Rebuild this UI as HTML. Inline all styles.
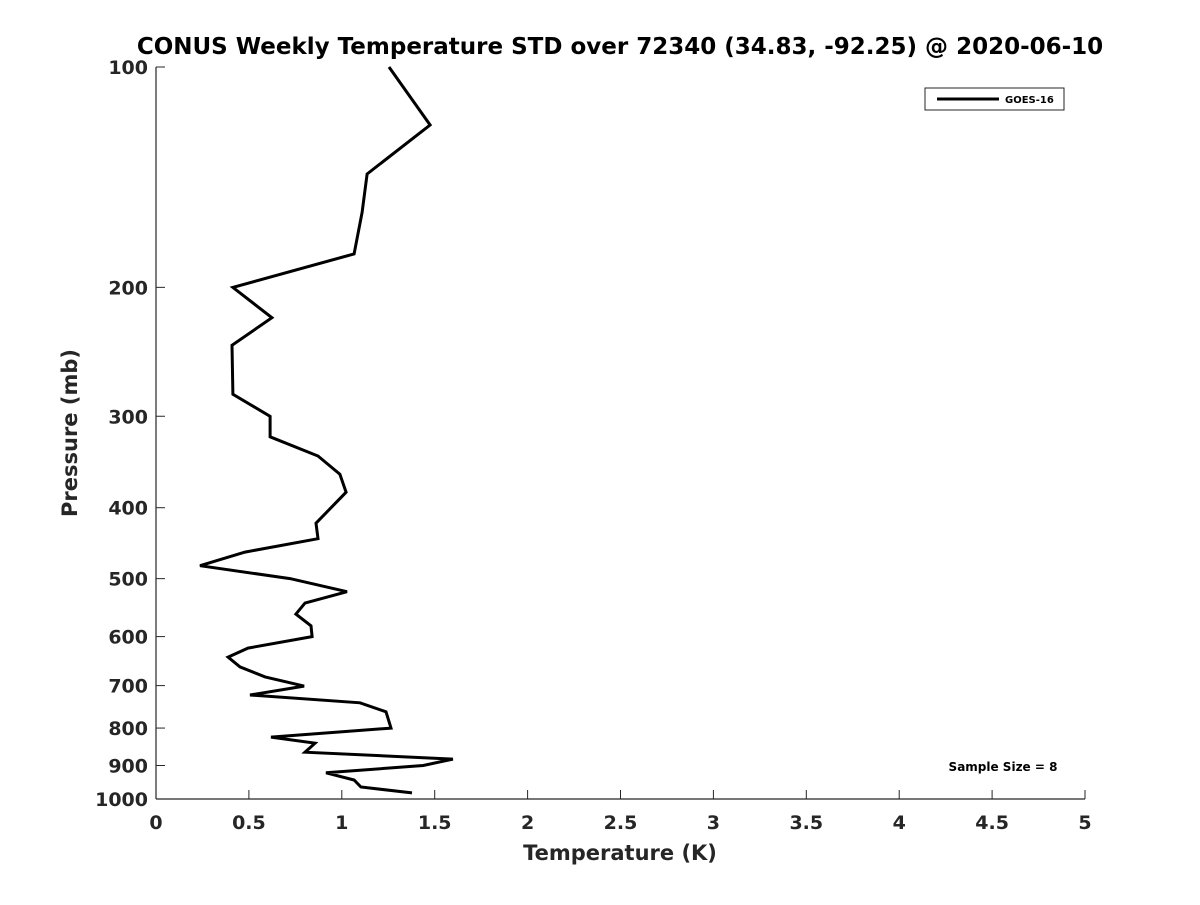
<!DOCTYPE html>
<html><head><meta charset="utf-8"><style>
body{margin:0;background:#fff;font-family:"Liberation Sans","DejaVu Sans",sans-serif}
</style></head><body>
<svg width="1200" height="900" xmlns="http://www.w3.org/2000/svg" id="svg" font-family="DejaVu Sans, Liberation Sans, sans-serif">
<rect width="1200" height="900" fill="#fff"/>
<text x="620" y="54" text-anchor="middle" font-size="23" font-weight="bold">CONUS Weekly Temperature STD over 72340 (34.83, -92.25) @ 2020-06-10</text>
<text x="620" y="860" text-anchor="middle" font-size="21" font-weight="bold" fill="#262626">Temperature (K)</text>
<text transform="translate(77,433) rotate(-90)" text-anchor="middle" font-size="21" font-weight="bold" fill="#262626">Pressure (mb)</text>
<g id="axes"></g>
<polyline id="line" fill="none" stroke="#000" stroke-width="3" stroke-linejoin="miter"/>
<g>
<rect x="925" y="88" width="139" height="22" fill="#fff" stroke="#262626" stroke-width="1"/>
<line x1="937" y1="99" x2="999" y2="99" stroke="#000" stroke-width="3"/>
<text x="1005" y="103" font-size="10" font-weight="bold">GOES-16</text>
</g>
<text x="1003" y="771" text-anchor="middle" font-size="12" font-weight="bold">Sample Size = 8</text>
</svg>
<script>
const temps=[1.254,1.475,1.136,1.109,1.066,0.414,0.624,0.409,0.414,0.614,0.614,0.872,0.990,1.023,0.861,0.872,0.479,0.237,0.721,1.028,0.802,0.753,0.834,0.840,0.495,0.388,0.452,0.587,0.797,0.506,1.098,1.238,1.265,0.619,0.856,0.802,1.598,1.438,0.915,1.066,1.103,1.378];
const pressures=[100,120,140,158,180,200,220,240,280,300,320,340,360,381,420,441,460,480,500,521,540,559,580,600,622,640,660,681,701,721,739,760,800,823,839,863,882,900,921,942,963,981];
const xTicks=[0,0.5,1,1.5,2,2.5,3,3.5,4,4.5,5];
const xTickLabels=["0","0.5","1","1.5","2","2.5","3","3.5","4","4.5","5"];
const yTicks=[100,200,300,400,500,600,700,800,900,1000];
const L=156,R=1085,T=67,B=799;
const xs=v=>L+(v/5)*(R-L);
const ys=p=>T+Math.log10(p/100)*(B-T);
const NS="http://www.w3.org/2000/svg";
const ax=document.getElementById('axes');
function mk(tag,attrs){const e=document.createElementNS(NS,tag);for(const k in attrs)e.setAttribute(k,attrs[k]);ax.appendChild(e);return e;}
let e=mk('line',{x1:L,y1:T,x2:L,y2:B,stroke:'#262626','stroke-width':1.2});

e=mk('line',{x1:L,y1:B,x2:R,y2:B,stroke:'#262626','stroke-width':1.2});

xTicks.forEach((t,i)=>{const x=xs(t);
 let l=mk('line',{x1:x,y1:B,x2:x,y2:B-9,stroke:'#262626','stroke-width':1});
 
 let tx=mk('text',{x:x,y:B+30,'text-anchor':'middle','font-size':19,'font-weight':'bold',fill:'#262626'});
 tx.textContent=xTickLabels[i];
 });
yTicks.forEach(t=>{const y=ys(t);
 let l=mk('line',{x1:L,y1:y,x2:L+9,y2:y,stroke:'#262626','stroke-width':1});
 
 let tx=mk('text',{x:L-8,y:y+7,'text-anchor':'end','font-size':19,'font-weight':'bold',fill:'#262626'});
 tx.textContent=String(t);
 });
document.getElementById('line').setAttribute('points',temps.map((v,i)=>xs(v).toFixed(1)+','+ys(pressures[i]).toFixed(1)).join(' '));
</script>
</body></html>
